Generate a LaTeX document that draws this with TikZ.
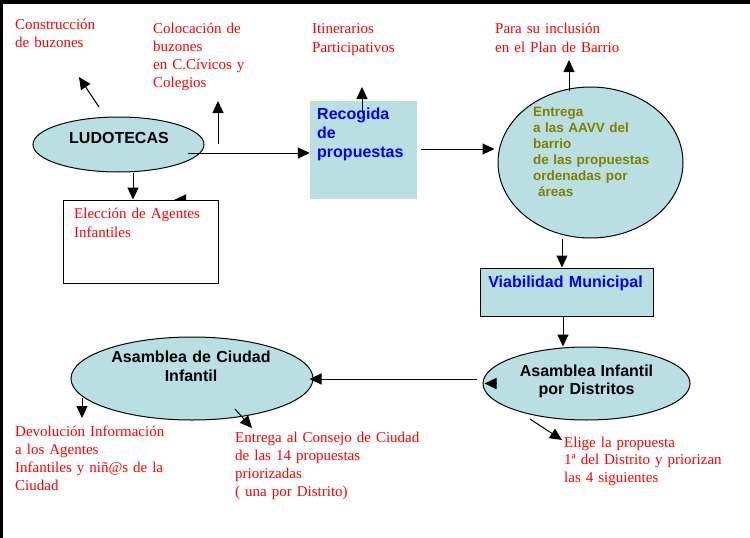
\documentclass[tikz,border=0pt]{standalone}
\usepackage{fontspec}
\setmainfont{Liberation Serif}
\newfontfamily\arial{Liberation Sans}
\usetikzlibrary{shapes.geometric,arrows.meta}
\definecolor{cajafondo}{RGB}{185,223,227}
\definecolor{oliva}{RGB}{128,128,0}

\begin{document}
\begin{tikzpicture}[x=1pt,y=-1pt,
  flecha/.style={line width=1pt,-{Triangle[length=12pt,width=11pt]}},
  burbuja/.style={ellipse,draw,line width=1pt,fill=cajafondo,inner sep=0},
  nota/.style={anchor=base west,inner sep=0,text=red,align=left,text width=200pt,
    font=\fontsize{15}{18.3}\selectfont},
  titulo/.style={anchor=base,inner sep=0,align=center,text width=200pt,
    font=\arial\bfseries\fontsize{16}{18.5}\selectfont}]
  \useasboundingbox (0,0) rectangle (750,538);
  % Frame
  \fill[black] (0,0) rectangle (750,538);
  \fill[white] (3,4) rectangle (750,538);
  % Shapes
  \node[burbuja,minimum width=171pt,minimum height=55pt] (ludo) at (118.5,144.5) {};
  \node[burbuja,minimum width=185pt,minimum height=151pt] (entrega) at (590.5,162.5) {};
  \node[burbuja,minimum width=207pt,minimum height=73pt] (asamInf) at (586.5,383.5) {};
  \node[burbuja,minimum width=242pt,minimum height=83pt] (asamCiu) at (192,378.5) {};
  \node[fill=cajafondo,inner sep=0,minimum width=107pt,minimum height=98pt] (recogida) at (363.5,150) {};
  \node[draw,line width=1pt,fill=cajafondo,inner sep=0,minimum width=173pt,minimum height=48pt] (viab) at (566.5,292) {};
  \coordinate (eTope) at (140.5,200);
  \draw[flecha] ([xshift=46pt]eTope) -- ([xshift=33.5pt]eTope);
  \node[draw,line width=1pt,fill=white,inner sep=0,minimum width=155pt,minimum height=83pt] (elec) at (140.5,241.5) {};
  % Connectors
  \coordinate (sBuz) at (99,107);  \coordinate (pBuz) at (79,77);
  \coordinate (sCol) at (218,144); \coordinate (pCol) at (218,101);
  \coordinate (sRec) at (188,153);
  \coordinate (sIti) at (362,113); \coordinate (pIti) at (362,87);
  \coordinate (sEnt) at (421,149);
  \coordinate (sPlan) at (569,91); \coordinate (pPlan) at (569,60);
  \coordinate (sInf) at (477,379);
  \coordinate (sEli) at (530,419); \coordinate (pEli) at (562,440);
  \coordinate (sDev) at (82,398);  \coordinate (pDev) at (82,418);
  \coordinate (sCon) at (235,409); \coordinate (pCon) at (252,428);
  \draw[flecha] (sBuz) -- (pBuz);
  \draw[flecha] (sCol) -- (pCol);
  \draw[flecha] (sRec) -- (sRec -| recogida.west);
  \draw[flecha] ([xshift=14.5pt]ludo.south) -- ([xshift=-7.5pt]elec.north);
  \draw[flecha] (sIti) -- (pIti);
  \draw[flecha,shorten >=3pt] (sEnt) -- (sEnt -| entrega.west);
  \draw[flecha] (sPlan) -- (pPlan);
  \draw[flecha] ([xshift=-28.5pt]entrega.south) -- ([xshift=-4.5pt]viab.north);
  \draw[flecha] ([xshift=-3.5pt]viab.south) -- ([xshift=-3.5pt]viab.south |- asamInf.north);
  \draw[flecha,shorten >=-4pt] (sInf) -- (sInf -| asamCiu.east);
  \draw[flecha] ([xshift=13.5pt]asamInf.west) -- ([xshift=2pt]asamInf.west);
  \draw[flecha] (sEli) -- (pEli);
  \draw[flecha] (sDev) -- (pDev);
  \draw[flecha] (sCon) -- (pCon);
  % Labels
  \node[titulo] (tLudo) at (119,143) {LUDOTECAS};
  \node[titulo,anchor=base west,align=left,text=blue,text width=100pt,
    font=\arial\bfseries\fontsize{16}{19}\selectfont] (tRecogida) at (317,119) {Recogida\\de\\propuestas};
  \node[anchor=base west,inner sep=0,align=left,text width=150pt,text=oliva,
    font=\arial\bfseries\fontsize{13.5}{16}\selectfont] (tEntrega) at (533,116)
    {Entrega\\a las AAVV del\\barrio\\de las propuestas\\ordenadas por\\\hspace*{5pt}áreas};
  \node[titulo,text=blue] (tViab) at (565.5,287) {Viabilidad Municipal};
  \node[titulo,font=\arial\bfseries\fontsize{16}{18}\selectfont] (tAsamInf) at (586.5,376) {Asamblea Infantil\\por Distritos};
  \node[titulo,font=\arial\bfseries\fontsize{16}{19}\selectfont] (tAsamCiu) at (191,362) {Asamblea de Ciudad\\Infantil};
  \node[nota] (buzones) at (15,29) {Construcción\\de buzones};
  \node[nota,font=\fontsize{15}{17.7}\selectfont] (colocacion) at (153,34) {Colocación de\\buzones\\en C.Cívicos y\\Colegios};
  \node[nota,font=\fontsize{15}{19}\selectfont] (itinerarios) at (312,34) {Itinerarios\\Participativos};
  \node[nota,font=\fontsize{15}{19}\selectfont] (plan) at (495,34) {Para su inclusión\\en el Plan de Barrio};
  \node[nota,font=\fontsize{15}{19}\selectfont] (agentes) at (74,218) {Elección de Agentes\\Infantiles};
  \node[nota] (devolucion) at (15,436) {Devolución Información\\a los Agentes\\Infantiles y niñ@s de la\\Ciudad};
  \node[nota,font=\fontsize{15}{18}\selectfont] (consejo) at (235,442) {Entrega al Consejo de Ciudad\\de las 14 propuestas\\priorizadas\\( una por Distrito)};
  \node[nota,font=\fontsize{15}{17.5}\selectfont] (elige) at (564,447) {Elige la propuesta\\1ª del Distrito y priorizan\\las 4 siguientes};
\end{tikzpicture}
\end{document}
